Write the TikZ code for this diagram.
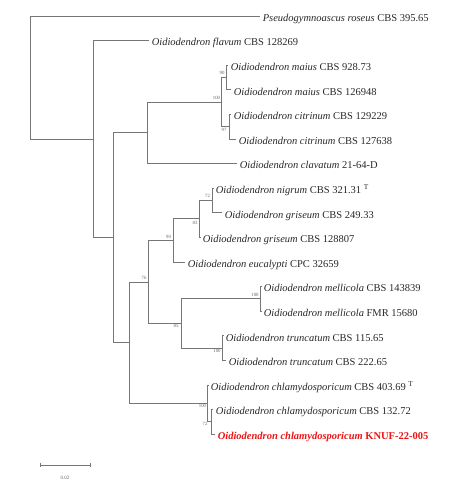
\documentclass[tikz,border=0pt]{standalone}
\usepackage{fontspec}
\setmainfont{Liberation Serif}
\definecolor{treegray}{RGB}{118,118,118}
\definecolor{txtgray}{RGB}{40,40,40}
\definecolor{bootgray}{RGB}{100,100,100}
\definecolor{hilite}{RGB}{235,20,20}
\begin{document}
\begin{tikzpicture}[x=1pt,y=-1pt,
  branch/.style={draw=treegray, line width=1pt},
  taxon/.style={anchor=base west, inner sep=0pt, xshift=2.6pt, yshift=-5.3pt,
    font=\fontsize{10.5}{12}\selectfont, text=txtgray},
  boot/.style={inner sep=0pt, font=\fontsize{4.8}{5}\selectfont, text=bootgray},
  scalelbl/.style={inner sep=0pt, font=\fontsize{5}{6}\selectfont, text=bootgray}]
\useasboundingbox (0,0) rectangle (455,485);
% internal nodes
\coordinate (root) at (30.5,77.6);
\coordinate (B) at (93.5,139.2);
\coordinate (C) at (113.5,237.8);
\coordinate (D) at (147.5,132.85);
\coordinate (E) at (221.5,102.1);
\coordinate (M) at (226.5,77.5);
\coordinate (Cit) at (229.5,126.7);
\coordinate (F) at (129.5,342.7);
\coordinate (G) at (148.5,282);
\coordinate (H) at (173.5,240.5);
\coordinate (I) at (199.5,218.95);
\coordinate (J) at (212.5,200.5);
\coordinate (K) at (181.5,323.5);
\coordinate (L) at (260.5,298.9);
\coordinate (N) at (222.5,348.1);
\coordinate (P) at (207.5,403.45);
\coordinate (Q) at (211.5,421.9);
% tips
\coordinate (l0) at (260,16);
\coordinate (l1) at (149,40.6);
\coordinate (l2) at (228,65.2);
\coordinate (l3) at (231,89.8);
\coordinate (l4) at (231,114.4);
\coordinate (l5) at (236,139);
\coordinate (l6) at (237,163.6);
\coordinate (l7) at (213,188.2);
\coordinate (l8) at (222,212.8);
\coordinate (l9) at (200,237.4);
\coordinate (l10) at (185,262);
\coordinate (l11) at (261,286.6);
\coordinate (l12) at (261,311.2);
\coordinate (l13) at (223,335.8);
\coordinate (l14) at (226,360.4);
\coordinate (l15) at (208,385);
\coordinate (l16) at (213,409.6);
\coordinate (l17) at (215,434.2);
% branches
\draw[branch] (root) |- (l0);
\draw[branch] (root) |- (B);
\draw[branch] (B) |- (l1);
\draw[branch] (B) |- (C);
\draw[branch] (C) |- (D);
\draw[branch] (C) |- (F);
\draw[branch] (D) |- (E);
\draw[branch] (D) |- (l6);
\draw[branch] (E) |- (M);
\draw[branch] (E) |- (Cit);
\draw[branch] (M) |- (l2);
\draw[branch] (M) |- (l3);
\draw[branch] (Cit) |- (l4);
\draw[branch] (Cit) |- (l5);
\draw[branch] (F) |- (G);
\draw[branch] (F) |- (P);
\draw[branch] (G) |- (H);
\draw[branch] (G) |- (K);
\draw[branch] (H) |- (I);
\draw[branch] (H) |- (l10);
\draw[branch] (I) |- (J);
\draw[branch] (I) |- (l9);
\draw[branch] (J) |- (l7);
\draw[branch] (J) |- (l8);
\draw[branch] (K) |- (L);
\draw[branch] (K) |- (N);
\draw[branch] (L) |- (l11);
\draw[branch] (L) |- (l12);
\draw[branch] (N) |- (l13);
\draw[branch] (N) |- (l14);
\draw[branch] (P) |- (l15);
\draw[branch] (P) |- (Q);
\draw[branch] (Q) |- (l16);
\draw[branch] (Q) |- (l17);
% taxa
\node[taxon] (t0) at (l0) {\textit{Pseudogymnoascus roseus} CBS 395.65};
\node[taxon] (t1) at (l1) {\textit{Oidiodendron flavum} CBS 128269};
\node[taxon] (t2) at (l2) {\textit{Oidiodendron maius} CBS 928.73};
\node[taxon] (t3) at (l3) {\textit{Oidiodendron maius} CBS 126948};
\node[taxon] (t4) at (l4) {\textit{Oidiodendron citrinum} CBS 129229};
\node[taxon] (t5) at (l5) {\textit{Oidiodendron citrinum} CBS 127638};
\node[taxon] (t6) at (l6) {\textit{Oidiodendron clavatum} 21-64-D};
\node[taxon] (t7) at (l7) {\textit{Oidiodendron nigrum} CBS 321.31 \textsuperscript{T}};
\node[taxon] (t8) at (l8) {\textit{Oidiodendron griseum} CBS 249.33};
\node[taxon] (t9) at (l9) {\textit{Oidiodendron griseum} CBS 128807};
\node[taxon] (t10) at (l10) {\textit{Oidiodendron eucalypti} CPC 32659};
\node[taxon] (t11) at (l11) {\textit{Oidiodendron mellicola} CBS 143839};
\node[taxon] (t12) at (l12) {\textit{Oidiodendron mellicola} FMR 15680};
\node[taxon] (t13) at (l13) {\textit{Oidiodendron truncatum} CBS 115.65};
\node[taxon] (t14) at (l14) {\textit{Oidiodendron truncatum} CBS 222.65};
\node[taxon] (t15) at (l15) {\textit{Oidiodendron chlamydosporicum} CBS 403.69 \textsuperscript{T}};
\node[taxon] (t16) at (l16) {\textit{Oidiodendron chlamydosporicum} CBS 132.72};
\node[taxon, text=hilite] (t17) at (l17) {\bfseries\textit{Oidiodendron chlamydosporicum} KNUF-22-005};
% bootstrap values
\node[boot] (bE) at (216.5,97.5) {100};
\node[boot] (bM) at (222,73) {90};
\node[boot] (bCit) at (224,129.5) {97};
\node[boot] (bJ) at (207.5,196) {72};
\node[boot] (bI) at (195,223) {83};
\node[boot] (bH) at (168.5,236.5) {90};
\node[boot] (bG) at (144,277.5) {76};
\node[boot] (bK) at (176,325.5) {85};
\node[boot] (bL) at (255,295) {100};
\node[boot] (bN) at (217,351) {100};
\node[boot] (bP) at (202.5,406) {100};
\node[boot] (bQ) at (205,423.5) {72};
% scale bar
\coordinate (s1) at (40.7,465);
\coordinate (s2) at (90,465);
\draw[branch, line width=0.9pt] (s1) -- (s2);
\draw[branch, line width=0.7pt] ([yshift=1.8pt]s1) -- ([yshift=-1.8pt]s1);
\draw[branch, line width=0.7pt] ([yshift=1.8pt]s2) -- ([yshift=-1.8pt]s2);
\node[scalelbl] (sl) at (65,478) {0.02};
\end{tikzpicture}
\end{document}
